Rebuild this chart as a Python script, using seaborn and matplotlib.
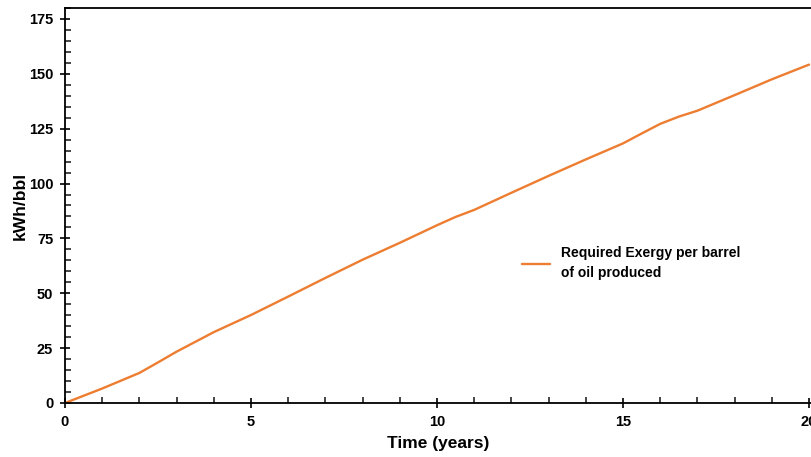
import matplotlib
matplotlib.use('Agg')
import matplotlib.pyplot as plt
from matplotlib.ticker import MultipleLocator
import seaborn as sns
import pandas as pd

years = [0, 1, 2, 2.5, 3, 4, 5, 6, 7, 8, 9, 10, 10.5, 11, 12, 13, 14, 15,
         15.5, 16, 16.5, 17, 18, 19, 20]
exergy = [0, 6.6, 13.7, 18.5, 23.4, 32.3, 40.1, 48.5, 57.0, 65.3, 73.0, 81.0,
          84.8, 88.0, 95.8, 103.5, 111.0, 118.3, 122.8, 127.2, 130.5, 133.2,
          140.3, 147.5, 154.2]
series_label = 'Required Exergy per barrel\nof oil produced'

sns.set_style('ticks')
plt.rcParams['font.family'] = ['Liberation Sans', 'DejaVu Sans']
plt.rcParams['font.weight'] = 'bold'
plt.rcParams['text.color'] = 'black'
plt.rcParams['axes.labelcolor'] = 'black'

df = pd.DataFrame({'Time (years)': years, 'kWh/bbl': exergy, 'series': series_label})

fig = plt.figure(figsize=(8.12, 4.57), dpi=100)
ax = fig.add_axes([65 / 812, 54 / 457, 747 / 812, 395 / 457])

sns.lineplot(data=df, x='Time (years)', y='kWh/bbl', hue='series',
             palette=['#ED7D31'], linewidth=1.7, ax=ax)
for ln in ax.get_lines():
    ln.set_solid_joinstyle('round')

ax.set_xlim(0, 20.08)
ax.set_ylim(0, 180)
ax.xaxis.set_major_locator(MultipleLocator(5))
ax.xaxis.set_minor_locator(MultipleLocator(1))
ax.yaxis.set_major_locator(MultipleLocator(25))
ax.yaxis.set_minor_locator(MultipleLocator(5))
ax.tick_params(which='major', direction='inout', length=7, width=1.2,
               labelsize=10.5, colors='black', pad=5)
ax.tick_params(which='minor', direction='in', length=4, width=1.2)
for lab in ax.get_xticklabels() + ax.get_yticklabels():
    lab.set_fontweight('bold')

for s in ['left', 'bottom', 'top']:
    ax.spines[s].set_linewidth(1.3)
    ax.spines[s].set_color('black')
ax.spines['right'].set_visible(False)

ax.set_xlabel('Time (years)', fontsize=12.5, fontweight='bold', labelpad=5)
ax.set_ylabel('kWh/bbl', fontsize=12.5, fontweight='bold', labelpad=1)

leg = ax.legend(loc='upper left', bbox_to_anchor=(515 / 812, 1 - 239 / 457),
                bbox_transform=fig.transFigure, frameon=False, borderpad=0,
                handlelength=2.0, handletextpad=0.8,
                prop={'size': 10, 'weight': 'bold'})
for t in leg.get_texts():
    t.set_linespacing(1.55)
    t.set_color('black')

plt.savefig('out.png', dpi=100)
